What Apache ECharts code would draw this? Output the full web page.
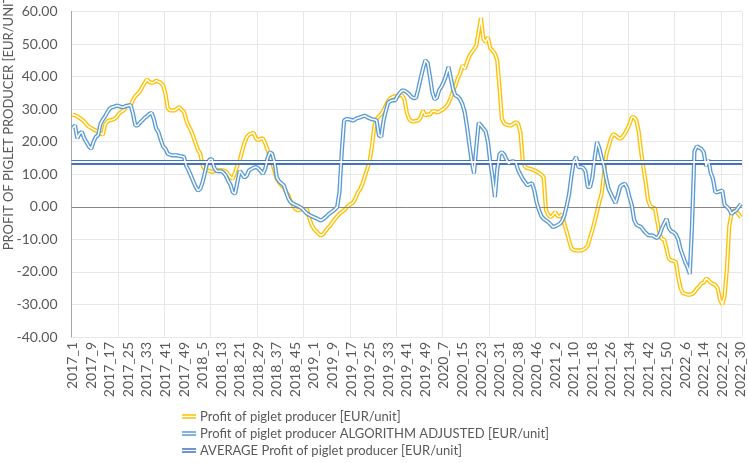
<!DOCTYPE html>
<html>
<head>
<meta charset="utf-8">
<title>Profit of piglet producer</title>
<script src="https://cdn.jsdelivr.net/npm/echarts@6/dist/echarts.min.js"></script>
<style>
    html, body { margin: 0; padding: 0; background: #fff; }
    #chart { width: 748px; height: 463px; }
</style>
</head>
<body>
<div id="chart"></div>
<script>
// weeks in the data set, per year (2019 stops at week 50, 2020 has one week twice)
const yearWeeks = [[2017, 52], [2018, 52], [2019, 50], [2020, 52], [2021, 52], [2022, 30]];
const doubledWeek = '2020_34';

const weeks = [];
yearWeeks.forEach(([year, count]) => {
    for (let w = 1; w <= count; w++) {
        weeks.push(year + '_' + w);
        if (year + '_' + w === doubledWeek) weeks.push(year + '_' + w);
    }
});

// Profit of piglet producer [EUR/unit]
const profit = [
    28.3, 28.1, 27.8, 27.3, 26.8, 26.2, 25.3, 24.6, 24.2, 23.8,
    23.4, 23.0, 22.6, 22.1, 25.3, 26.3, 26.6, 26.7, 27.0, 27.6,
    28.6, 29.2, 29.6, 30.8, 31.2, 31.3, 32.8, 34.0, 34.7, 35.5,
    36.8, 38.0, 39.1, 38.4, 38.1, 38.2, 38.8, 38.4, 38.1, 37.3,
    34.7, 30.3, 29.6, 29.6, 29.6, 30.2, 30.6, 29.8, 29.1, 26.5,
    24.8, 23.4, 21.6, 19.5, 17.5, 16.3, 12.7, 11.4, 11.2, 11.0,
    10.7, 10.9, 11.1, 11.3, 11.2, 11.2, 10.9, 10.0, 9.1, 8.6,
    10.5, 12.7, 14.2, 17.0, 19.5, 21.4, 22.2, 22.5, 22.7, 21.0,
    20.5, 20.9, 21.0, 19.5, 17.5, 15.3, 13.5, 11.0, 8.6, 7.5,
    6.6, 6.0, 4.5, 3.6, 1.6, 0.4, -0.6, -1.1, -0.9, -0.6,
    -0.7, -0.8, -3.5, -5.5, -6.8, -7.5, -8.3, -8.8, -8.4, -7.4,
    -6.5, -5.8, -4.7, -3.8, -2.9, -2.2, -1.6, -1.1, -0.2, 0.4,
    0.9, 1.4, 2.8, 4.5, 5.5, 7.2, 9.5, 11.7, 14.0, 18.5,
    24.5, 27.0, 27.8, 28.5, 29.6, 31.1, 32.5, 33.4, 33.8, 34.0,
    34.0, 34.4, 34.2, 33.0, 29.0, 27.0, 26.3, 26.2, 26.4, 26.5,
    27.5, 29.5, 28.1, 28.4, 28.3, 29.3, 29.4, 29.0, 29.2, 29.7,
    30.1, 30.8, 31.8, 33.5, 35.8, 37.2, 39.5, 40.9, 43.5, 42.4,
    44.5, 46.3, 47.5, 48.4, 49.5, 54.0, 58.0, 51.6, 50.6, 52.1,
    48.7, 48.0, 47.0, 45.0, 36.5, 27.0, 25.6, 25.3, 25.0, 25.0,
    25.5, 26.0, 25.5, 22.9, 14.0, 12.3, 11.9, 11.7, 11.5, 11.2,
    10.8, 10.4, 9.9, 9.1, -1.0, -2.5, -3.2, -2.5, -1.6, -2.8,
    -3.0, -2.2, -5.5, -7.8, -10.5, -12.8, -13.3, -13.4, -13.4, -13.4,
    -13.2, -12.8, -12.0, -9.5, -7.2, -4.5, -1.5, 1.5, 4.0, 10.0,
    16.0, 18.5, 21.0, 22.3, 22.0, 21.3, 20.9, 21.5, 22.5, 23.8,
    25.3, 27.5, 27.5, 26.5, 23.0, 17.0, 12.0, 7.5, 2.0, 0.2,
    -0.2, -0.5, -4.5, -8.5, -9.8, -10.2, -13.0, -16.0, -16.5, -16.6,
    -17.0, -21.5, -25.0, -26.5, -26.7, -27.0, -27.0, -26.8, -26.2, -25.2,
    -24.5, -23.5, -23.3, -22.0, -22.5, -23.3, -23.7, -24.0, -25.0, -28.5,
    -30.0, -27.5, -19.0, -6.0, -2.0, -1.1, -1.5, -2.2, -3.2
];

// Profit of piglet producer ALGORITHM ADJUSTED [EUR/unit]
const profitAdjusted = [
    24.2, 25.0, 21.0, 22.5, 23.0, 21.0, 19.8, 18.5, 17.8, 20.0,
    21.5, 22.0, 25.5, 26.8, 27.8, 29.1, 30.2, 30.6, 30.8, 31.1,
    30.9, 30.7, 30.6, 31.0, 31.1, 31.3, 28.6, 25.0, 25.0, 25.8,
    26.5, 27.3, 27.8, 28.5, 28.9, 27.0, 24.0, 22.9, 20.5, 18.5,
    17.8, 16.3, 16.0, 15.8, 15.8, 15.8, 15.6, 15.5, 15.3, 12.5,
    11.2, 9.5, 7.8, 6.1, 5.0, 5.5, 7.6, 10.5, 13.5, 14.5,
    14.7, 12.0, 11.0, 10.9, 11.0, 10.5, 9.6, 8.0, 6.8, 4.5,
    4.0, 7.5, 11.0, 10.1, 9.0, 9.5, 11.2, 11.6, 12.0, 12.2,
    11.8, 11.0, 10.1, 11.7, 15.0, 16.8, 16.3, 13.7, 9.0, 7.8,
    7.2, 6.6, 4.5, 2.5, 1.4, 1.0, 0.6, 0.3, -0.1, -0.6,
    -1.4, -2.1, -2.5, -2.9, -3.2, -3.5, -3.9, -4.2, -3.8, -3.2,
    -2.5, -1.9, -1.4, -0.8, -0.1, 4.5, 17.0, 26.5, 27.0, 26.9,
    26.7, 26.5, 27.0, 27.3, 27.5, 27.8, 28.0, 27.5, 27.2, 26.9,
    26.8, 26.5, 22.0, 21.5, 26.5, 29.5, 32.0, 32.5, 32.7, 32.7,
    34.0, 35.0, 35.7, 35.7, 35.2, 34.6, 33.8, 33.4, 33.5, 36.3,
    39.5, 42.5, 45.0, 44.2, 40.0, 35.2, 33.0, 33.5, 35.9, 37.0,
    38.5, 40.5, 43.0, 39.5, 36.0, 34.2, 33.9, 33.0, 31.5, 29.0,
    24.5, 19.0, 14.0, 10.3, 18.5, 25.8, 25.0, 24.1, 23.2, 19.9,
    13.7, 9.0, 3.0, 11.5, 16.2, 16.8, 16.0, 14.5, 13.2, 13.9,
    14.0, 13.6, 11.3, 9.9, 8.5, 7.6, 6.6, 7.0, 7.2, 5.0,
    1.4, -1.0, -2.8, -3.7, -4.2, -4.7, -5.4, -6.2, -6.0, -5.6,
    -5.2, -4.3, -2.5, 0.5, 4.0, 9.5, 14.0, 15.3, 12.2, 12.2,
    12.0, 11.0, 6.2, 6.0, 9.0, 15.0, 19.9, 18.0, 15.0, 12.5,
    8.6, 5.5, 4.0, 2.5, 1.2, 3.5, 6.2, 6.8, 7.1, 5.8,
    3.0, 0.5, -4.0, -5.5, -5.9, -6.2, -7.2, -8.0, -8.7, -8.8,
    -8.8, -9.3, -9.6, -8.5, -6.5, -5.0, -3.7, -6.5, -7.5, -7.8,
    -8.5, -10.0, -13.0, -15.0, -17.0, -18.5, -20.6, -5.0, 17.0, 18.6,
    18.2, 17.8, 16.8, 12.5, 14.5, 10.5, 8.6, 4.5, 4.5, 4.8,
    5.0, 0.6, 0.0, -0.8, -2.2, -1.5, -1.1, -0.1, 0.9
];

// AVERAGE Profit of piglet producer [EUR/unit]
const averageProfit = 13.7;

const yMin = -40;
const yMax = 60;
const yStep = 10;

const names = [
    'Profit of piglet producer [EUR/unit]',
    'Profit of piglet producer ALGORITHM ADJUSTED [EUR/unit]',
    'AVERAGE Profit of piglet producer [EUR/unit]'
];

const FONT = 'Lato, "Open Sans", sans-serif';
const GREY = '#595959';
const YELLOW = '#FFC000';
const BLUE = '#5B9BD5';
const DARK_BLUE = '#4472C4';
// legend mark drawn as a double line, like the series
const DOUBLE_ICON = 'path://M0,0H16V1.7H0Z M0,3.3H16V5H0Z';

// a coloured line with a thin white line on top gives the double stroke
function doubleLine(name, data, color, z) {
    return [
        {
            name: name,
            type: 'line',
            data: data,
            color: color,
            showSymbol: false,
            symbol: 'none',
            lineStyle: {width: 4.2, color: color},
            z: z,
            silent: true
        },
        {
            name: name + ' core',
            type: 'line',
            data: data,
            color: '#fff',
            showSymbol: false,
            symbol: 'none',
            lineStyle: {width: 1.5, color: '#fff'},
            z: z + 1,
            silent: true
        }
    ];
}

let chart = echarts.init(document.getElementById('chart'));

let option = {
    animation: false,
    backgroundColor: '#fff',
    grid: {
        left: 71.5,
        right: 6,
        top: 11.5,
        bottom: 126,
        containLabel: false,
        outerBoundsMode: 'none'
    },
    legend: {
        orient: 'vertical',
        left: 177,
        top: 405,
        itemWidth: 14,
        itemHeight: 5,
        itemGap: 4,
        selectedMode: false,
        itemStyle: {borderWidth: 0},
        textStyle: {fontFamily: FONT, fontSize: 13, color: GREY, padding: [0, 0, 0, -1]},
        data: names.map(n => ({name: n, icon: DOUBLE_ICON}))
    },
    graphic: [{
        type: 'text',
        x: 9,
        y: 121,
        rotation: Math.PI / 2,
        style: {
            text: 'PROFIT OF PIGLET PRODUCER [EUR/UNIT]',
            font: '13px ' + FONT,
            fill: GREY,
            align: 'center',
            verticalAlign: 'middle'
        }
    }],
    xAxis: {
        type: 'category',
        data: weeks,
        boundaryGap: true,
        axisLine: {show: false},
        axisTick: {show: false},
        axisLabel: {
            interval: 7,
            rotate: 90,
            margin: 5,
            fontFamily: FONT,
            fontSize: 14,
            color: GREY
        },
        splitLine: {
            show: true,
            interval: 19,
            lineStyle: {color: '#e8e8e8', width: 1}
        }
    },
    yAxis: {
        type: 'value',
        min: yMin,
        max: yMax,
        interval: yStep,
        axisLine: {show: true, lineStyle: {color: '#a6a6a6', width: 1}},
        axisTick: {show: false},
        axisLabel: {
            margin: 14,
            fontFamily: FONT,
            fontSize: 14,
            color: GREY,
            formatter: v => v.toFixed(2)
        },
        splitLine: {lineStyle: {color: '#e8e8e8', width: 1}}
    },
    series: [
        { // horizontal axis line at zero
            name: 'zero',
            type: 'line',
            data: [],
            z: 1,
            silent: true,
            markLine: {
                silent: true,
                symbol: 'none',
                label: {show: false},
                lineStyle: {color: '#868686', width: 1, type: 'solid'},
                data: [{yAxis: 0}]
            }
        },
        ...doubleLine(names[0], profit, YELLOW, 2),
        ...doubleLine(names[1], profitAdjusted, BLUE, 4),
        {
            name: names[2],
            type: 'line',
            data: [],
            color: DARK_BLUE,
            z: 6,
            silent: true,
            markLine: {
                silent: true,
                symbol: 'none',
                label: {show: false},
                data: [
                    {yAxis: averageProfit, lineStyle: {color: DARK_BLUE, width: 4.8, type: 'solid'}},
                    {yAxis: averageProfit, lineStyle: {color: '#fff', width: 2, type: 'solid'}}
                ]
            }
        }
    ]
};

chart.setOption(option);
</script>
</body>
</html>
